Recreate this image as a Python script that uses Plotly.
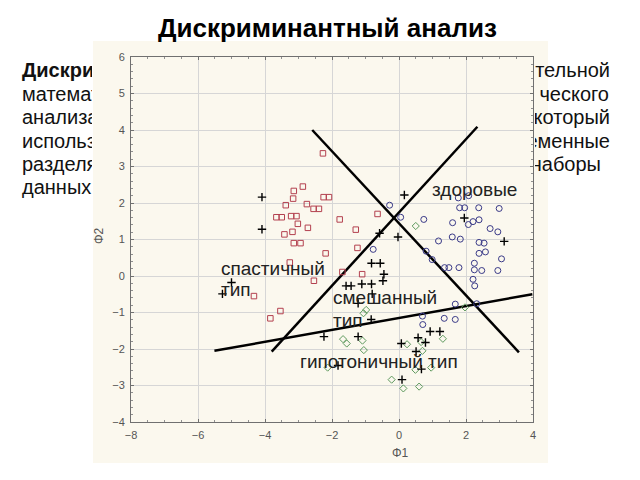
import plotly.graph_objects as go

# ---------------- data ----------------
# spastic type (red squares)
sq_x = [-2.27, -2.87, -3.14, -3.16, -3.38, -2.75, -2.25, -2.09, -2.55, -2.39, -3.66, -3.50,
        -3.22, -3.06, -3.02, -1.77, -2.72, -1.29, -3.18, -3.42, -0.64, -3.14, -2.94, -1.24,
        -2.19, -3.26, -1.69, -1.10, -2.54, -4.33, -3.54, -3.84]
sq_y = [3.36, 2.45, 2.33, 2.12, 1.94, 1.97, 2.16, 2.16, 1.84, 1.84, 1.61, 1.61,
        1.64, 1.64, 1.43, 1.55, 1.32, 1.27, 1.21, 1.14, 1.70, 0.90, 0.90, 0.77,
        0.62, 0.37, 0.11, 0.05, -0.13, -0.55, -0.96, -1.16]

# healthy (blue circles)
ci_x = [-0.28, 0.05, 0.74, 1.77, 2.08, 1.81, 1.96, 2.38, 2.99, 1.60, 2.07, 2.21, 2.39, 2.72,
        2.95, 1.18, 1.59, 1.83, 2.39, 2.54, 2.39, 2.58, 3.06, -0.77, 0.81, 0.99, 1.36, 1.49,
        1.79, 2.25, 2.25, 2.47, 2.95, 2.21, 2.26, 1.68, 2.32, 0.70, 0.71, 1.35, 1.68]
ci_y = [1.94, 1.61, 1.55, 2.14, 2.20, 1.87, 1.87, 1.87, 1.85, 1.46, 1.41, 1.49, 1.54, 1.30,
        1.21, 0.96, 1.07, 1.01, 0.92, 0.90, 0.62, 0.66, 0.47, 0.73, 0.68, 0.45, 0.23, 0.23,
        0.23, 0.35, 0.17, 0.15, 0.15, -0.09, -0.27, -0.77, -0.76, -1.10, -1.33, -1.16, -1.19]

# hypotonic type (green diamonds)
di_x = [0.50, -0.98, -1.06, -1.67, -1.56, -1.09, -1.05, -2.13, 0.24, -0.22, 0.13, 0.60,
        0.49, 0.70, 0.96, 0.66, 1.31, 1.97]
di_y = [1.37, -0.93, -1.02, -1.73, -1.85, -1.77, -2.03, -2.51, -1.87, -2.84, -3.08, -3.03,
        -2.57, -2.05, -2.51, -1.81, -1.72, -0.86]

# mixed type (black crosses)
pl_x = [-4.09, -4.09, 0.16, 1.95, -0.58, -0.03, 3.14, -0.82, -0.56, -0.45, -0.48, -1.58,
        -1.43, -1.11, -0.82, -5.00, -5.27, -0.80, -1.22, -0.83, -2.24, -1.22, -1.82, 0.07,
        0.57, 0.79, 0.51, 0.67, 0.93, 1.22, 0.09]
pl_y = [2.16, 1.28, 2.22, 1.59, 1.17, 1.07, 0.95, 0.35, 0.35, 0.05, -0.13, -0.27,
        -0.27, -0.22, -0.22, -0.18, -0.49, -0.49, -0.75, -1.19, -1.66, -1.66, -2.45, -1.85,
        -1.69, -1.82, -2.07, -2.55, -1.52, -1.52, -2.84]

# separating lines
line1_x, line1_y = [-2.59, 3.58], [4.00, -2.09]
line2_x, line2_y = [-3.80, 2.34], [-2.07, 4.09]
line3_x, line3_y = [-5.51, 3.98], [-2.05, -0.50]

x_ticks = [-8, -6, -4, -2, 0, 2, 4]
y_ticks = [-4, -3, -2, -1, 0, 1, 2, 3, 4, 5, 6]

title_text = "Дискриминантный анализ"
x_title, y_title = "Φ1", "Φ2"

group_labels = ["здоровые", "спастичный", "тип", "смешанный", "тип", "гипотоничный тип"]
group_lab_x = [0.94, -5.36, -5.36, -2.02, -2.02, -3.01]
group_lab_y = [2.36, 0.20, -0.36, -0.59, -1.21, -2.35]

# slide body text (visible parts; the rest is hidden behind the chart picture)
left_lines = ["<b>Дискрим</b>", "математ", "анализа", "использ", "разделя", "данных"]
left_line_y = [72, 96, 119, 143, 166, 189]
right_lines = ["ительной", "ческого", "который", "еменные", "наборы"]
right_line_y = [72, 96, 119, 143, 166]
right_line_end = [610, 609, 610, 610, 601]

# ---------------- figure ----------------
W, H = 640, 480
FONT = "Liberation Sans, Arial, sans-serif"

fig = go.Figure()

line_style = dict(color="black", width=2.5)
for lx, ly in [(line1_x, line1_y), (line2_x, line2_y), (line3_x, line3_y)]:
    fig.add_trace(go.Scatter(x=lx, y=ly, mode="lines", line=line_style, hoverinfo="skip"))

fig.add_trace(go.Scatter(x=sq_x, y=sq_y, mode="markers",
                         marker=dict(symbol="square-open", size=5.5, color="#b3404f",
                                     line=dict(width=1))))
fig.add_trace(go.Scatter(x=ci_x, y=ci_y, mode="markers",
                         marker=dict(symbol="circle-open", size=6, color="#3a3a88",
                                     line=dict(width=1))))
fig.add_trace(go.Scatter(x=di_x, y=di_y, mode="markers",
                         marker=dict(symbol="diamond-open", size=5.5, color="#5e9a5e",
                                     line=dict(width=1))))
fig.add_trace(go.Scatter(x=pl_x, y=pl_y, mode="markers",
                         marker=dict(symbol="cross-thin-open", size=6, color="black",
                                     line=dict(width=1.4, color="black"))))

# slide text, clipped by small helper subplots
fig.add_trace(go.Scatter(x=[22] * len(left_lines), y=left_line_y, text=left_lines,
                         mode="text", textposition="middle right", cliponaxis=True,
                         textfont=dict(family=FONT, size=20, color="#111"),
                         xaxis="x2", yaxis="y2", hoverinfo="skip"))
fig.add_trace(go.Scatter(x=right_line_end, y=right_line_y, text=right_lines,
                         mode="text", textposition="middle left", cliponaxis=True,
                         textfont=dict(family=FONT, size=20, color="#111"),
                         xaxis="x3", yaxis="y3", hoverinfo="skip"))

px0, px1, py0, py1 = 131, 533, 57, 422

axis_common = dict(showgrid=True, gridcolor="#d6d6d6", gridwidth=1,
                   showline=True, linecolor="#707070", linewidth=1, mirror="ticks",
                   ticks="inside", ticklen=3, tickcolor="#707070",
                   tickfont=dict(family=FONT, size=11, color="#555"),
                   zeroline=False, automargin=False, ticklabelstandoff=3)

fig.update_layout(
    width=W, height=H, template="none",
    margin=dict(l=0, r=0, t=0, b=0),
    paper_bgcolor="white", plot_bgcolor="white",
    showlegend=False,
    xaxis=dict(domain=[px0 / W, px1 / W], range=[-8, 4], tickvals=x_ticks,
               minor=dict(dtick=0.5, ticks="inside", ticklen=2, tickcolor="#909090", showgrid=False),
               **axis_common),
    yaxis=dict(domain=[1 - py1 / H, 1 - py0 / H], range=[-4, 6], tickvals=y_ticks,
               minor=dict(dtick=0.2, ticks="inside", ticklen=2, tickcolor="#909090", showgrid=False),
               **axis_common),
    xaxis2=dict(domain=[0, 92 / W], range=[0, 92], visible=False, fixedrange=True),
    yaxis2=dict(domain=[0, 1], range=[H, 0], visible=False, fixedrange=True),
    xaxis3=dict(domain=[535 / W, 1], range=[535, 640], visible=False, fixedrange=True),
    yaxis3=dict(domain=[1 - 205 / H, 1 - 50 / H], range=[205, 50], visible=False, fixedrange=True),
)

# cream background of the pasted chart picture
fig.add_shape(type="rect", xref="paper", yref="paper", layer="below",
              x0=93 / W, x1=548 / W, y0=1 - 463 / H, y1=1 - 41 / H,
              line=dict(width=0), fillcolor="#fbf8ee")

annotations = [
    dict(text="<b>" + title_text + "</b>", xref="paper", yref="paper", x=327 / W, y=1 - 28 / H,
         showarrow=False, font=dict(family=FONT, size=26, color="black"),
         xanchor="center", yanchor="middle"),
    dict(text=x_title, xref="paper", yref="paper", x=400 / W, y=1 - 453 / H,
         showarrow=False, font=dict(family=FONT, size=12, color="#555"),
         xanchor="center", yanchor="middle"),
    dict(text=y_title, xref="paper", yref="paper", x=99 / W, y=1 - 236 / H,
         showarrow=False, textangle=-90, font=dict(family=FONT, size=12, color="#555"),
         xanchor="center", yanchor="middle"),
]
for t, gx, gy in zip(group_labels, group_lab_x, group_lab_y):
    annotations.append(dict(text=t, x=gx, y=gy, xref="x", yref="y", showarrow=False,
                            xanchor="left", yanchor="middle", align="left",
                            font=dict(family=FONT, size=19, color="#222")))
fig.update_layout(annotations=annotations)

fig.write_html("out.html")
